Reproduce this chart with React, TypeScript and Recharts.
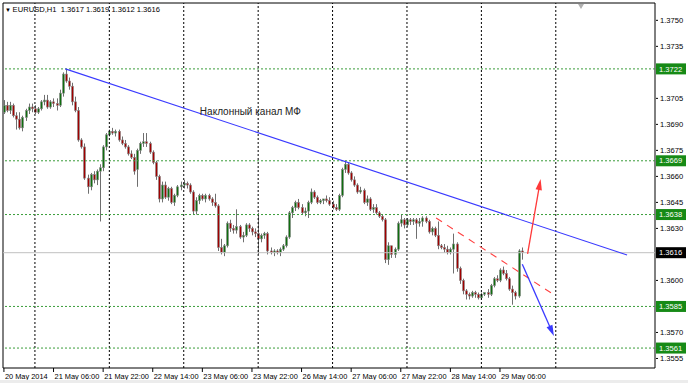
import React from "react";
import {
  Bar,
  ComposedChart,
  ReferenceArea,
  ReferenceDot,
  ReferenceLine,
  XAxis,
  YAxis,
} from "recharts";

// open, high, low, close for each H1 bar
type Ohlc = [number, number, number, number];

const may20: Ohlc[] = [
  [1.3697, 1.3704, 1.3696, 1.3701], [1.3701, 1.3703, 1.3697, 1.3698], [1.3698, 1.3703, 1.3696, 1.3701],
  [1.3701, 1.3702, 1.3694, 1.3695], [1.3695, 1.3697, 1.3687, 1.3693], [1.3693, 1.3697, 1.3687, 1.3688],
  [1.3688, 1.3695, 1.3686, 1.3694], [1.3694, 1.3699, 1.3692, 1.3698], [1.3698, 1.3702, 1.3696, 1.37],
  [1.37, 1.3702, 1.3697, 1.3699],
];

const may21: Ohlc[] = [
  [1.3699, 1.3701, 1.3696, 1.3697], [1.3697, 1.37, 1.3696, 1.3699], [1.3699, 1.3704, 1.3698, 1.3703],
  [1.3703, 1.3707, 1.3701, 1.3704], [1.3704, 1.3707, 1.3699, 1.37], [1.37, 1.3704, 1.3699, 1.3703],
  [1.3703, 1.3705, 1.37, 1.3702], [1.3702, 1.3705, 1.3698, 1.3701], [1.3701, 1.371, 1.37, 1.3708],
  [1.3708, 1.372, 1.3706, 1.3719], [1.3719, 1.3722, 1.3714, 1.3715], [1.3715, 1.3717, 1.371, 1.3712],
  [1.3712, 1.3714, 1.3701, 1.3703], [1.3703, 1.3706, 1.3697, 1.3698], [1.3698, 1.37, 1.368, 1.3681],
  [1.3681, 1.3682, 1.3676, 1.3677], [1.3677, 1.3679, 1.3658, 1.3659], [1.3659, 1.3661, 1.365, 1.3654],
  [1.3654, 1.3662, 1.3652, 1.3661], [1.3661, 1.3663, 1.3656, 1.3658], [1.3658, 1.3664, 1.3655, 1.3663],
  [1.3663, 1.3667, 1.3634, 1.3665], [1.3665, 1.3678, 1.3663, 1.3677], [1.3677, 1.3685, 1.3675, 1.3684],
];

const may22: Ohlc[] = [
  [1.3684, 1.3687, 1.3683, 1.3686], [1.3686, 1.3688, 1.3684, 1.3685], [1.3685, 1.3687, 1.3683, 1.3686],
  [1.3686, 1.3687, 1.368, 1.3681], [1.3681, 1.3683, 1.3678, 1.3679], [1.3679, 1.3681, 1.3676, 1.3677],
  [1.3677, 1.3678, 1.3672, 1.3673], [1.3673, 1.3675, 1.367, 1.3671], [1.3671, 1.3673, 1.3661, 1.3663],
  [1.3664, 1.3676, 1.3654, 1.3675], [1.3675, 1.368, 1.3673, 1.3679], [1.3679, 1.3685, 1.3677, 1.368],
  [1.368, 1.3685, 1.3677, 1.3679], [1.3679, 1.368, 1.3673, 1.3674], [1.3674, 1.3675, 1.3667, 1.3668],
  [1.3668, 1.3669, 1.3658, 1.366], [1.366, 1.3661, 1.3645, 1.3647], [1.3647, 1.3657, 1.3645, 1.3655],
  [1.3655, 1.3657, 1.3647, 1.3648], [1.3648, 1.3654, 1.3646, 1.3653], [1.3653, 1.3654, 1.3644, 1.3645],
  [1.3645, 1.365, 1.3643, 1.3649], [1.3649, 1.3655, 1.3648, 1.3654], [1.3654, 1.3657, 1.3652, 1.3655],
];

const may23: Ohlc[] = [
  [1.3655, 1.3658, 1.3653, 1.3656], [1.3656, 1.3657, 1.3653, 1.3655], [1.3655, 1.3656, 1.365, 1.3651],
  [1.3651, 1.3652, 1.3638, 1.364], [1.364, 1.3648, 1.3638, 1.3646], [1.3646, 1.365, 1.3644, 1.3649],
  [1.3649, 1.365, 1.3646, 1.3647], [1.3647, 1.365, 1.3645, 1.3649], [1.3649, 1.365, 1.3646, 1.3647],
  [1.3647, 1.3648, 1.3643, 1.3645], [1.3645, 1.365, 1.3642, 1.3643], [1.3643, 1.3644, 1.3617, 1.3619],
  [1.3619, 1.3624, 1.3615, 1.3616], [1.3616, 1.3621, 1.3614, 1.362], [1.362, 1.3634, 1.3619, 1.3633],
  [1.3633, 1.3635, 1.3628, 1.363], [1.363, 1.3632, 1.3627, 1.3629], [1.3629, 1.3641, 1.3627, 1.3631],
  [1.3631, 1.3632, 1.3624, 1.3625], [1.3625, 1.3628, 1.3622, 1.3626], [1.3626, 1.3633, 1.3625, 1.3632],
  [1.3632, 1.3633, 1.3628, 1.363], [1.363, 1.3631, 1.3626, 1.3628], [1.3628, 1.363, 1.3625, 1.3627],
];

const may26: Ohlc[] = [
  [1.3627, 1.3639, 1.3615, 1.3624], [1.3624, 1.3627, 1.3622, 1.3626], [1.3626, 1.3628, 1.3624, 1.3627],
  [1.3627, 1.3628, 1.3615, 1.3617], [1.3617, 1.3619, 1.3615, 1.3616], [1.3616, 1.3618, 1.3614, 1.3617],
  [1.3617, 1.3618, 1.3615, 1.3616], [1.3616, 1.3619, 1.3614, 1.3618], [1.3618, 1.3621, 1.3617, 1.362],
  [1.362, 1.3626, 1.3619, 1.3625], [1.3625, 1.364, 1.3624, 1.3639], [1.3639, 1.3643, 1.3636, 1.3642],
  [1.3642, 1.3646, 1.364, 1.3645], [1.3645, 1.3647, 1.3641, 1.3642], [1.3642, 1.3644, 1.3638, 1.3639],
  [1.3639, 1.3642, 1.3637, 1.364], [1.364, 1.3646, 1.3636, 1.3645], [1.3645, 1.3653, 1.3644, 1.3651],
  [1.3651, 1.3652, 1.3647, 1.3648], [1.3648, 1.3649, 1.3644, 1.3645], [1.3645, 1.3647, 1.3644, 1.3646],
  [1.3646, 1.3647, 1.3644, 1.3647], [1.3647, 1.3649, 1.3645, 1.3646], [1.3646, 1.3648, 1.3643, 1.3644],
];

const may27: Ohlc[] = [
  [1.3644, 1.3646, 1.3641, 1.3642], [1.3642, 1.3644, 1.364, 1.3641], [1.3641, 1.365, 1.364, 1.3649],
  [1.3649, 1.3665, 1.3648, 1.3664], [1.3664, 1.3669, 1.3662, 1.3667], [1.3667, 1.3668, 1.3661, 1.3662],
  [1.3662, 1.3663, 1.3657, 1.3658], [1.3658, 1.366, 1.3654, 1.3655], [1.3655, 1.3656, 1.365, 1.3651],
  [1.3651, 1.3654, 1.365, 1.3652], [1.3652, 1.3653, 1.3644, 1.3645], [1.3645, 1.3649, 1.3643, 1.3647],
  [1.3647, 1.3648, 1.364, 1.3641], [1.3641, 1.3644, 1.3639, 1.3642], [1.3642, 1.3644, 1.3638, 1.3639],
  [1.3639, 1.364, 1.3636, 1.3637], [1.3637, 1.3638, 1.3634, 1.3635], [1.3635, 1.3636, 1.361, 1.3612],
  [1.3612, 1.3622, 1.3609, 1.362], [1.362, 1.362, 1.3613, 1.3615], [1.3615, 1.3619, 1.3613, 1.3618],
  [1.3618, 1.3634, 1.3617, 1.3633], [1.3633, 1.3638, 1.3631, 1.3635], [1.3635, 1.3636, 1.363, 1.3632],
];

const may28: Ohlc[] = [
  [1.3632, 1.3636, 1.3631, 1.3635], [1.3635, 1.3636, 1.3632, 1.3634], [1.3634, 1.3636, 1.3632, 1.3635],
  [1.3635, 1.3636, 1.3624, 1.3633], [1.3633, 1.3636, 1.3631, 1.3634], [1.3634, 1.3637, 1.3631, 1.3636],
  [1.3636, 1.3637, 1.3633, 1.3634], [1.3634, 1.3635, 1.3627, 1.3628], [1.3628, 1.3631, 1.3626, 1.363],
  [1.363, 1.3631, 1.3625, 1.3626], [1.3626, 1.3634, 1.3618, 1.362], [1.362, 1.3621, 1.3618, 1.3619],
  [1.3619, 1.3621, 1.3616, 1.3618], [1.3618, 1.362, 1.3615, 1.3616], [1.3616, 1.3619, 1.3615, 1.3618],
  [1.3618, 1.3627, 1.3604, 1.3621], [1.3621, 1.3622, 1.3605, 1.3607], [1.3607, 1.3608, 1.3598, 1.36],
  [1.36, 1.3601, 1.3592, 1.3594], [1.3594, 1.3595, 1.3589, 1.3592], [1.3592, 1.3593, 1.3589, 1.3591],
  [1.3591, 1.3594, 1.359, 1.3593], [1.3593, 1.3594, 1.359, 1.3592], [1.3592, 1.3593, 1.3589, 1.359],
];

const may29: Ohlc[] = [
  [1.359, 1.3593, 1.3589, 1.3592], [1.3592, 1.3593, 1.3591, 1.3593], [1.3593, 1.3595, 1.359, 1.3592],
  [1.3592, 1.3598, 1.3591, 1.3597], [1.3597, 1.3602, 1.3596, 1.3601], [1.3601, 1.3603, 1.3599, 1.36],
  [1.36, 1.3607, 1.3599, 1.3606], [1.3606, 1.3608, 1.3603, 1.3604], [1.3604, 1.3606, 1.36, 1.3601],
  [1.3601, 1.3602, 1.3594, 1.3595], [1.3595, 1.3597, 1.3586, 1.3593], [1.3593, 1.3594, 1.3589, 1.3591],
  [1.3591, 1.3618, 1.359, 1.3617], [1.3617, 1.3619, 1.3612, 1.3616],
];

const timeTicks = [0, 16, 32, 48, 64, 80, 96, 112, 128, 144, 160];
const timeLabels = [
  "20 May 2014", "21 May 06:00", "21 May 22:00", "22 May 14:00", "23 May 06:00", "23 May 22:00",
  "26 May 14:00", "27 May 06:00", "27 May 22:00", "28 May 14:00", "29 May 06:00",
];
const dayLines = [10, 34, 58, 82, 106, 130, 154, 178];
const priceTicks = [1.3555, 1.357, 1.36, 1.363, 1.3645, 1.366, 1.3675, 1.369, 1.3705, 1.3735, 1.375];
const levels = [1.3722, 1.3669, 1.3638, 1.3585, 1.3561];
const bidPrice = 1.3616;
const lastQuote = ["1.3617", "1.3619", "1.3612", "1.3616"];

const channelLine = [{ x: 19.8, y: 1.3722 }, { x: 201, y: 1.36147 }];
const redDash = [{ x: 139.4, y: 1.3636 }, { x: 177.2, y: 1.3592 }];
const upArrow = [{ x: 168.9, y: 1.36153 }, { x: 173.1, y: 1.36585 }];
const downArrow = [{ x: 167.2, y: 1.36093 }, { x: 177.4, y: 1.35679 }];

const xDomain = [-0.3, 210];
const yDomain = [1.35495, 1.376];

const font = "'Liberation Sans', Arial, sans-serif";

const data = [...may20, ...may21, ...may22, ...may23, ...may26, ...may27, ...may28, ...may29].map(
  ([open, high, low, close], i) => ({ i, open, high, low, close })
);

const CandleShape = (props: any) => {
  const { x, y, width, height, payload } = props;
  const { open, high, low, close } = payload;
  const top0 = Math.min(y, y + height);
  const h = Math.abs(height);
  const range = high - low || 1e-9;
  const py = (p: number) => top0 + ((high - p) / range) * h;
  const cx = Math.round(x + width / 2);
  const bTop = py(Math.max(open, close));
  const bBot = py(Math.min(open, close));
  const up = close >= open;
  return (
    <g>
      <line x1={cx + 0.5} x2={cx + 0.5} y1={top0} y2={top0 + h} stroke="#6f6f6f" strokeWidth={1} />
      <rect
        x={cx - 0.5}
        y={bTop}
        width={2}
        height={Math.max(1, bBot - bTop)}
        fill={up ? "#0f6e0f" : "#a00000"}
        stroke="#8a8a8a"
        strokeWidth={0.6}
      />
    </g>
  );
};

const PriceTick = (props: any) => {
  const { x, y, payload } = props;
  return (
    <g>
      <line x1={x + 1} x2={x + 3} y1={y} y2={y} stroke="#000" />
      <text x={x + 5} y={y} dy="0.35em" fontSize={7.6} fontFamily={font} fill="#000">
        {Number(payload.value).toFixed(4)}
      </text>
    </g>
  );
};

const TimeTick = (props: any) => {
  const { x, y, payload } = props;
  const label = timeLabels[timeTicks.indexOf(payload.value)];
  return (
    <g>
      <line x1={x} x2={x} y1={y} y2={y + 4} stroke="#000" />
      <text x={x + 1} y={y + 11} fontSize={7.4} fontFamily={font} fill="#000">
        {label}
      </text>
    </g>
  );
};

const tag = (props: any, value: number, bg: string) => {
  const vb = props.viewBox || props;
  const left = vb.x + vb.width + 1;
  return (
    <g>
      <rect x={left} y={vb.y - 5.5} width={30} height={11} fill={bg} />
      <text x={left + 3} y={vb.y} dy="0.35em" fontSize={7.6} fontFamily={font} fill="#fff">
        {value.toFixed(4)}
      </text>
    </g>
  );
};

const Arrow = (props: any) => {
  const { x1, y1, x2, y2, stroke } = props;
  const dx = x2 - x1;
  const dy = y2 - y1;
  const len = Math.hypot(dx, dy) || 1;
  const ux = dx / len;
  const uy = dy / len;
  const hl = 11;
  const hw = 3.2;
  const bx = x2 - ux * hl;
  const by = y2 - uy * hl;
  const pts = `${x2},${y2} ${bx - uy * hw},${by + ux * hw} ${bx + uy * hw},${by - ux * hw}`;
  return (
    <g>
      <line x1={x1} y1={y1} x2={bx + ux * 2} y2={by + uy * 2} stroke={stroke} strokeWidth={1.3} />
      <polygon points={pts} fill={stroke} />
    </g>
  );
};

export default function App() {
  return (
    <div style={{ position: "absolute", left: 0, top: 0, width: 688, height: 383, background: "#fff", overflow: "hidden" }}>
      <ComposedChart width={688} height={383} data={data} margin={{ top: 3, right: 0, bottom: 0, left: 3 }}>
        <XAxis
          dataKey="i"
          type="number"
          domain={xDomain}
          ticks={timeTicks}
          interval={0}
          allowDataOverflow
          axisLine={false}
          tickLine={false}
          tickSize={0}
          tickMargin={0}
          height={15}
          tick={<TimeTick />}
        />
        <YAxis
          orientation="right"
          type="number"
          domain={yDomain}
          ticks={priceTicks}
          interval={0}
          allowDataOverflow
          axisLine={false}
          tickLine={false}
          tickSize={0}
          tickMargin={0}
          width={33}
          tick={<PriceTick />}
        />
        {dayLines.map((d) => (
          <ReferenceLine key={`d${d}`} x={d} stroke="#000" strokeDasharray="2 2" strokeWidth={1} />
        ))}
        {levels.map((v) => (
          <ReferenceLine
            key={`l${v}`}
            y={v}
            stroke="#3a9d3a"
            strokeDasharray="2 2"
            label={(p: any) => tag(p, v, "#168a16")}
          />
        ))}
        <ReferenceLine y={bidPrice} stroke="#c0c0c0" label={(p: any) => tag(p, bidPrice, "#000")} />
        <Bar
          dataKey={(d: any) => [d.low, d.high]}
          barSize={3}
          isAnimationActive={false}
          shape={(p: any) => <CandleShape {...p} />}
        />
        <ReferenceLine segment={channelLine} stroke="#3a3aff" strokeWidth={1.1} />
        <ReferenceLine segment={redDash} stroke="#ff4040" strokeWidth={1.1} strokeDasharray="7 6" />
        <ReferenceLine segment={upArrow} stroke="#ff3a3a" shape={(p: any) => <Arrow {...p} />} />
        <ReferenceLine segment={downArrow} stroke="#3a3aff" shape={(p: any) => <Arrow {...p} />} />
        <ReferenceDot
          x={63.2}
          y={1.36972}
          r={0}
          shape={(p: any) => (
            <text x={p.cx} y={p.cy} dy="0.35em" fontSize={10} fontFamily={font} fill="#222">
              Наклонный канал МФ
            </text>
          )}
        />
        <ReferenceArea
          x1={xDomain[0]}
          x2={xDomain[1]}
          y1={yDomain[0]}
          y2={yDomain[1]}
          fill="none"
          stroke="#000"
          strokeWidth={1}
          ifOverflow="visible"
        />
      </ComposedChart>
      <div
        style={{
          position: "absolute",
          left: 5,
          top: 5,
          fontFamily: font,
          fontSize: 7.6,
          color: "#000",
          whiteSpace: "pre",
          lineHeight: "10px",
        }}
      >
        <span style={{ fontSize: 6 }}>▼ </span>
        {"EURUSD,H1  " + lastQuote.join(" ")}
      </div>
      <div
        style={{
          position: "absolute",
          left: 578,
          top: 4,
          width: 0,
          height: 0,
          borderLeft: "3px solid transparent",
          borderRight: "3px solid transparent",
          borderTop: "5px solid #b0b0b0",
        }}
      />
      <div style={{ position: "absolute", left: 0, top: 380, width: 688, height: 3, background: "#ececec" }} />
    </div>
  );
}
